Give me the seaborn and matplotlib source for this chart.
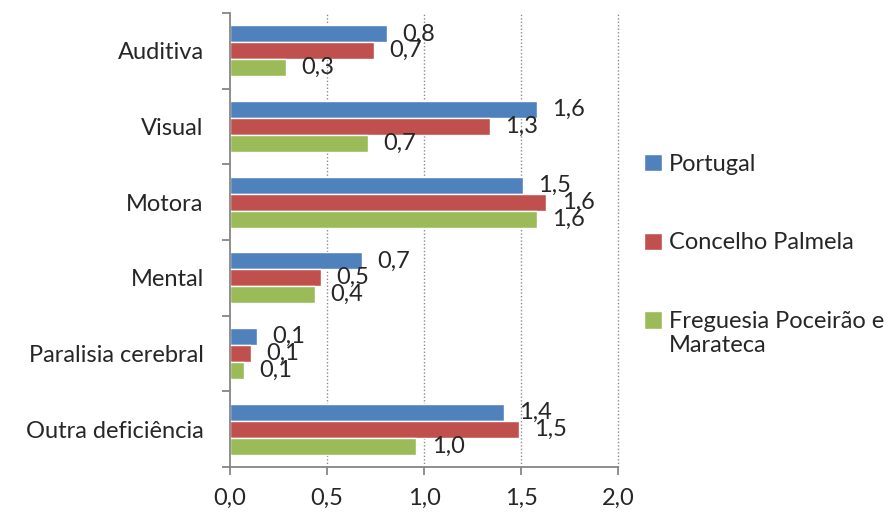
import pandas as pd
import matplotlib.pyplot as plt
import seaborn as sns
from matplotlib.ticker import FixedLocator

# Chart data
CATEGORIES = ["Auditiva", "Visual", "Motora", "Mental", "Paralisia cerebral", "Outra deficiência"]
SERIES = ["Portugal", "Concelho Palmela", "Freguesia Poceirão e Marateca"]
PORTUGAL = [0.81, 1.58, 1.51, 0.68, 0.14, 1.41]
PALMELA = [0.74, 1.34, 1.63, 0.47, 0.11, 1.49]
POCEIRAO = [0.29, 0.71, 1.58, 0.44, 0.07, 0.96]
X_TICKS = [0.0, 0.5, 1.0, 1.5, 2.0]

COLORS = ["#4F81BD", "#C0504D", "#9BBB59"]
FS = 17


def build_frame():
    rows = []
    for name, values in zip(SERIES, [PORTUGAL, PALMELA, POCEIRAO]):
        for cat, val in zip(CATEGORIES, values):
            rows.append({"categoria": cat, "serie": name, "valor": val})
    return pd.DataFrame(rows)


def fmt(v):
    return f"{v:.1f}".replace(".", ",")


df = build_frame()

sns.set_style("white")
plt.rcParams["font.family"] = ["Lato", "DejaVu Sans"]
plt.rcParams["font.size"] = FS

fig = plt.figure(figsize=(8.93, 5.15), dpi=100)
ax = fig.add_axes([0.2576, 0.0932, 0.4345, 0.8816])

sns.barplot(
    data=df,
    x="valor",
    y="categoria",
    hue="serie",
    orient="h",
    palette=COLORS,
    width=0.67,
    saturation=1,
    ax=ax,
)

# value labels after each bar
for container, values in zip(ax.containers, [PORTUGAL, PALMELA, POCEIRAO]):
    ax.bar_label(container, labels=[fmt(v) for v in values], padding=11, fontsize=FS)

ax.set_xlim(0, 2.0)
ax.set_ylim(len(CATEGORIES) - 0.5, -0.5)
ax.set_xticks(X_TICKS)
ax.set_xticklabels([fmt(t) for t in X_TICKS])
ax.set_xlabel("")
ax.set_ylabel("")

# dotted vertical gridlines
for t in X_TICKS[1:]:
    ax.axvline(t, color="#8C8C8C", linestyle=(0, (1, 1.5)), linewidth=1, zorder=0, clip_on=False)

# category separator ticks on the y axis
ax.yaxis.set_minor_locator(FixedLocator([i - 0.5 for i in range(len(CATEGORIES) + 1)]))
ax.tick_params(axis="y", which="major", length=0, pad=19)
ax.tick_params(axis="y", which="minor", length=6, color="#868686", width=1.3, direction="out", left=True)
ax.tick_params(axis="x", length=6, color="#868686", width=1.3, direction="out", bottom=True, pad=9)

for side in ["top", "right"]:
    ax.spines[side].set_visible(False)
for side in ["left", "bottom"]:
    ax.spines[side].set_color("#868686")
    ax.spines[side].set_linewidth(1.3)

# legend: the last label wraps onto a second line, with the square beside the first line
handles, labels = ax.get_legend_handles_labels()
labels = [lab.replace(" Marateca", "") for lab in labels]
leg = ax.legend(
    handles,
    labels,
    loc="upper left",
    bbox_to_anchor=(1.012, 0.737),
    frameon=False,
    handlelength=0.75,
    handleheight=0.75,
    handletextpad=0.3,
    labelspacing=2.45,
    fontsize=FS,
)

fig.canvas.draw()
last = leg.get_texts()[-1]
bb = last.get_window_extent().transformed(fig.transFigure.inverted())
fig.text(bb.x0, bb.y0 - 0.005, "Marateca", ha="left", va="top", fontsize=FS)

fig.savefig("out.png", dpi=100)
